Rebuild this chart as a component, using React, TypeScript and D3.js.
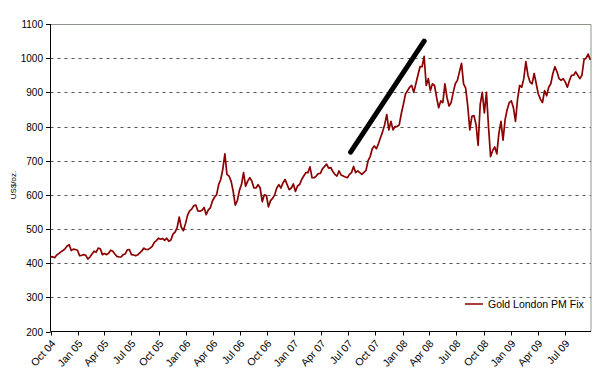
import React, { useEffect, useRef } from 'react';
import * as d3 from 'd3';

// weekly London PM fix (Fridays)
const gold2004 = [418, 419, 416, 424, 428, 433, 437, 442, 450, 454, 437, 441, 440, 438];
const gold2005 = [
  422, 423, 425, 423, 412, 418, 427, 435, 432, 444, 442, 425, 428, 425, 429, 438, 435,
  427, 420, 418, 418, 425, 427, 439, 440, 425, 424, 422, 424, 430, 436, 444, 440, 440,
  444, 449, 461, 466, 473, 470, 472, 467, 473, 464, 468, 485, 491, 504, 535, 505, 495, 515,
];
const gold2006 = [
  540, 553, 558, 568, 570, 553, 552, 555, 563, 542, 556, 562, 582, 593, 600, 630, 645,
  675, 720, 660, 655, 640, 610, 570, 583, 613, 630, 665, 625, 640, 650, 640, 620, 620,
  630, 620, 580, 600, 598, 565, 583, 590, 600, 620, 630, 620, 635, 645, 630, 615, 620, 632,
];
const gold2007 = [
  610, 626, 630, 645, 655, 665, 665, 682, 650, 650, 655, 662, 663, 676, 683, 690, 678,
  680, 668, 660, 655, 670, 658, 655, 652, 650, 660, 665, 683, 665, 670, 665, 660, 666,
  672, 700, 712, 735, 743, 735, 750, 768, 785, 806, 835, 790, 815, 790, 800, 800, 805, 838,
];
const gold2008 = [
  865, 895, 905, 915, 920, 900, 925, 950, 975, 975, 1005, 920, 940, 905, 925, 920, 885,
  855, 875, 870, 925, 885, 860, 870, 900, 925, 935, 960, 985, 925, 912, 860, 790, 830,
  832, 805, 745, 865, 900, 840, 900, 800, 712, 730, 740, 720, 780, 815, 760, 820, 850, 870,
];
const gold2009 = [
  875, 855, 815, 880, 920, 915, 940, 990, 950, 930, 925, 955, 925, 895, 880, 870, 905,
  890, 915, 925, 955, 975, 960, 940, 935, 940, 930, 915, 935, 950, 950, 960, 950, 940,
  950, 995, 1000, 1012, 995,
];

const yTicks = [200, 300, 400, 500, 600, 700, 800, 900, 1000, 1100];
const trendLine = [
  { date: new Date(2007, 6, 10), value: 725 },
  { date: new Date(2008, 2, 14), value: 1050 },
];
const seriesName = 'Gold London PM Fix';

function App() {
  const svgRef = useRef<SVGSVGElement>(null);

  useEffect(() => {
    document.body.style.margin = '0';
    const svg = d3.select(svgRef.current);
    svg.selectAll('*').remove();

    const width = 593;
    const height = 391;
    const left = 50.5;
    const right = 591;
    const top = 24;
    const bottom = 331.5;
    const font = '"Liberation Sans", Arial, sans-serif';

    const start = new Date(2004, 9, 1);
    const values = [...gold2004, ...gold2005, ...gold2006, ...gold2007, ...gold2008, ...gold2009];
    const data = values.map((v, i) => ({ date: d3.timeDay.offset(start, i * 7), value: v }));

    const x = d3.scaleTime().domain([start, new Date(2009, 9, 1)]).range([left, 592]);
    const y = d3.scaleLinear().domain([200, 1100]).range([bottom, top]);

    svg.attr('width', width).attr('height', height);

    // gridlines
    svg
      .selectAll('line.grid')
      .data(yTicks.filter((t) => t > 200 && t < 1100))
      .enter()
      .append('line')
      .attr('x1', left)
      .attr('x2', right)
      .attr('y1', (d) => Math.round(y(d)) + 0.5)
      .attr('y2', (d) => Math.round(y(d)) + 0.5)
      .attr('stroke', '#555')
      .attr('stroke-dasharray', '3,4');

    // top and right border
    svg
      .append('path')
      .attr('d', `M${left},${top + 0.5}H${right}V${bottom}`)
      .attr('fill', 'none')
      .attr('stroke', '#8a958a');

    // y axis
    svg
      .append('line')
      .attr('x1', left)
      .attr('x2', left)
      .attr('y1', top)
      .attr('y2', bottom)
      .attr('stroke', '#000');
    yTicks.forEach((t) => {
      const yy = Math.round(y(t)) + 0.5;
      svg.append('line').attr('x1', 46).attr('x2', left).attr('y1', yy).attr('y2', yy).attr('stroke', '#000');
      svg
        .append('text')
        .attr('x', 43)
        .attr('y', yy)
        .attr('dy', '0.35em')
        .attr('text-anchor', 'end')
        .attr('font-family', font)
        .attr('font-size', 10)
        .text(t);
    });

    svg
      .append('text')
      .attr('transform', 'translate(16,185) rotate(-90)')
      .attr('text-anchor', 'middle')
      .attr('font-family', font)
      .attr('font-size', 8)
      .text('US$/oz.');

    // x axis
    svg
      .append('line')
      .attr('x1', left)
      .attr('x2', right)
      .attr('y1', bottom)
      .attr('y2', bottom)
      .attr('stroke', '#000');
    const xTicks = d3.timeMonth.every(3)!.range(start, new Date(2009, 7, 1));
    const fmt = d3.timeFormat('%b %y');
    xTicks.forEach((d) => {
      const xx = Math.round(x(d)) + 0.5;
      svg.append('line').attr('x1', xx).attr('x2', xx).attr('y1', bottom).attr('y2', bottom + 4).attr('stroke', '#000');
      svg
        .append('text')
        .attr('transform', `translate(${xx + 2},${bottom + 10}) rotate(-48)`)
        .attr('text-anchor', 'end')
        .attr('dy', '0.35em')
        .attr('font-family', font)
        .attr('font-size', 10.5)
        .text(fmt(d));
    });

    // price line
    const line = d3
      .line<{ date: Date; value: number }>()
      .x((d) => x(d.date))
      .y((d) => y(d.value));

    svg
      .append('path')
      .datum(data)
      .attr('fill', 'none')
      .attr('stroke', '#8b0000')
      .attr('stroke-width', 1.7)
      .attr('stroke-linejoin', 'round')
      .attr('d', line);

    // trend line
    svg
      .append('path')
      .datum(trendLine)
      .attr('fill', 'none')
      .attr('stroke', '#000')
      .attr('stroke-width', 5)
      .attr('stroke-linecap', 'round')
      .attr('d', line);

    // legend
    svg.append('line').attr('x1', 465).attr('x2', 483).attr('y1', 304).attr('y2', 304).attr('stroke', '#8b0000').attr('stroke-width', 1.5);
    svg
      .append('text')
      .attr('x', 488)
      .attr('y', 304)
      .attr('dy', '0.35em')
      .attr('font-family', font)
      .attr('font-size', 10.5)
      .text(seriesName);
  }, []);

  return <svg ref={svgRef}></svg>;
}

export default App;
